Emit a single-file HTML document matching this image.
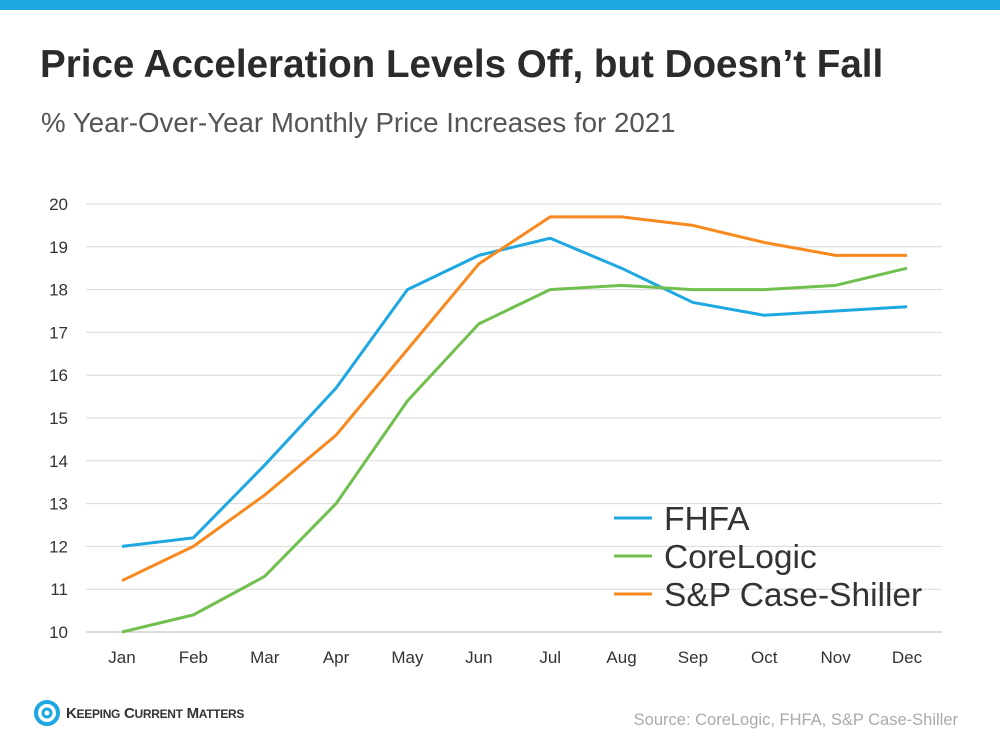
<!DOCTYPE html>
<html><head><meta charset="utf-8"><style>
body{margin:0;width:1000px;height:750px;background:#fff;font-family:"Liberation Sans",sans-serif;overflow:hidden;position:relative}
.top{position:absolute;left:0;top:0;width:1000px;height:10px;background:#1ea7e1}
h1{position:absolute;left:40px;top:43px;margin:0;font-size:38.6px;font-weight:bold;color:#2b2b2b}
.sub{position:absolute;left:41px;top:107px;font-size:27.7px;color:#555}
.src{position:absolute;right:42px;top:711px;font-size:16.5px;color:#aaa}
.logo{position:absolute;left:34px;top:700px;font-size:15px;font-weight:bold;color:#333;display:flex;align-items:center;gap:6px}
</style></head><body>
<div class="top"></div>
<h1>Price Acceleration Levels Off, but Doesn’t Fall</h1>
<div class="sub">% Year-Over-Year Monthly Price Increases for 2021</div>
<div class="logo"><svg width="26" height="26" viewBox="0 0 26 26"><circle cx="13" cy="13" r="11" fill="none" stroke="#1ea7e1" stroke-width="4"/><circle cx="13" cy="13" r="4" fill="none" stroke="#1ea7e1" stroke-width="3"/></svg><span style="letter-spacing:-0.3px">K<span style="font-size:12px">EEPING</span> C<span style="font-size:12px">URRENT</span> M<span style="font-size:12px">ATTERS</span></span></div>
<div class="src">Source: CoreLogic, FHFA, S&amp;P Case-Shiller</div>
<svg id="chart" width="1000" height="750" style="position:absolute;left:0;top:0"></svg>
<script>
const months=["Jan","Feb","Mar","Apr","May","Jun","Jul","Aug","Sep","Oct","Nov","Dec"];
const yTicks=[10,11,12,13,14,15,16,17,18,19,20];
const fhfa=[12.0,12.2,13.9,15.7,18.0,18.8,19.2,18.5,17.7,17.4,17.5,17.6];
const coreLogic=[10.0,10.4,11.3,13.0,15.4,17.2,18.0,18.1,18.0,18.0,18.1,18.5];
const caseShiller=[11.2,12.0,13.2,14.6,16.6,18.6,19.7,19.7,19.5,19.1,18.8,18.8];
const seriesNames=["FHFA","CoreLogic","S&P Case-Shiller"];
const svg=document.getElementById('chart');const NS="http://www.w3.org/2000/svg";
const x=i=>122+i*(907-122)/11, y=v=>632-(v-10)*42.8;
function mk(t,a,txt){const e=document.createElementNS(NS,t);for(const k in a)e.setAttribute(k,a[k]);if(txt!=null)e.textContent=txt;svg.appendChild(e);return e;}
yTicks.forEach(v=>{
const l=mk('line',{x1:86,x2:942,y1:y(v),y2:y(v),stroke:v==10?'#bbb':'#d9d9d9','stroke-width':1});


const t=mk('text',{x:68,y:y(v)+6,'text-anchor':'end','font-size':17,fill:'#333'},v);

});
months.forEach((m,i)=>{const t=mk('text',{x:x(i),y:663,'text-anchor':'middle','font-size':17,fill:'#333'},m);

});
const colors=["#1ea7e1","#70bf4f","#f7891f"];
[fhfa,coreLogic,caseShiller].forEach((s,k)=>{
const p=mk('polyline',{points:s.map((v,i)=>x(i)+','+y(v)).join(' '),fill:'none',stroke:colors[k],'stroke-width':3,'stroke-linejoin':'round'});


const ly=518+k*38;
const ll=mk('line',{x1:614,x2:652,y1:ly,y2:ly,stroke:colors[k],'stroke-width':3});


const lt=mk('text',{x:664,y:ly+12,'font-size':33.5,fill:'#333'},seriesNames[k]);

});
</script>
</body></html>
